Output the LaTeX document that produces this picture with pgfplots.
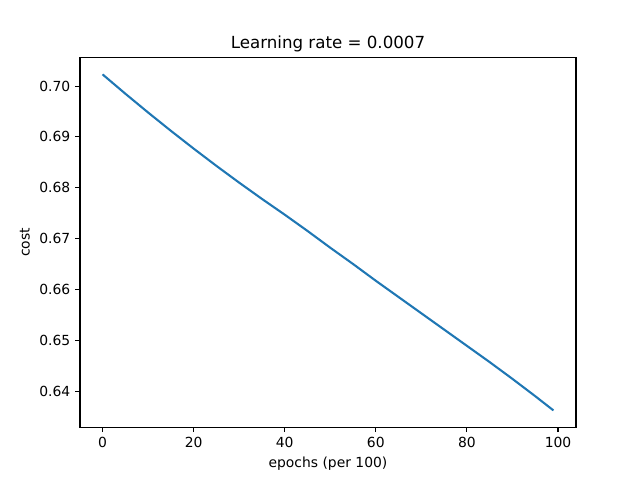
\documentclass[border=0pt]{standalone}
\usepackage{fontspec}
\setmainfont{DejaVu Sans}
\usepackage{pgfplots}
\pgfplotsset{compat=1.18}
\definecolor{mplblue}{HTML}{1F77B4}
\begin{document}
\fontsize{10pt}{12pt}\selectfont
\begin{tikzpicture}
\path[use as bounding box] (-57.6pt,-38.02pt) rectangle (403.2pt,307.58pt);
\begin{axis}[
  at={(0pt,0pt)}, anchor=south west,
  scale only axis,
  width=357.12pt, height=266.11pt,
  xmin=-4.95, xmax=103.95,
  ymin=0.6329, ymax=0.7056,
  xtick={0,20,40,60,80,100},
  ytick={0.64,0.65,0.66,0.67,0.68,0.69,0.70},
  yticklabel style={/pgf/number format/.cd,fixed,fixed zerofill,precision=2},
  /pgf/number format/assume math mode=true,
  tick align=outside,
  tick pos=left,
  major tick length=3.5pt,
  every tick/.style={line width=0.8pt, black},
  axis line style={line width=0.8pt},
  ticklabel style={font=\fontsize{10pt}{12pt}\selectfont},
  title={Learning rate = 0.0007},
  title style={font=\fontsize{12pt}{14pt}\selectfont, yshift=-5.6pt},
  xlabel={epochs (per 100)},
  ylabel={cost},
  label style={font=\fontsize{10pt}{12pt}\selectfont},
]
\addplot[mplblue, line width=1.5pt, line join=round] coordinates {
(0,0.7023) (5,0.6985) (10,0.6948) (15,0.6912) (20,0.6877) (25,0.6843)
(30,0.6810) (35,0.6778) (40,0.6747) (45,0.6715) (50,0.6682) (55,0.6650)
(60,0.6617) (65,0.6585) (70,0.6553) (75,0.6521) (80,0.6489) (85,0.6457)
(90,0.6424) (95,0.6390) (99,0.6362)
};
\end{axis}
\end{tikzpicture}
\end{document}
